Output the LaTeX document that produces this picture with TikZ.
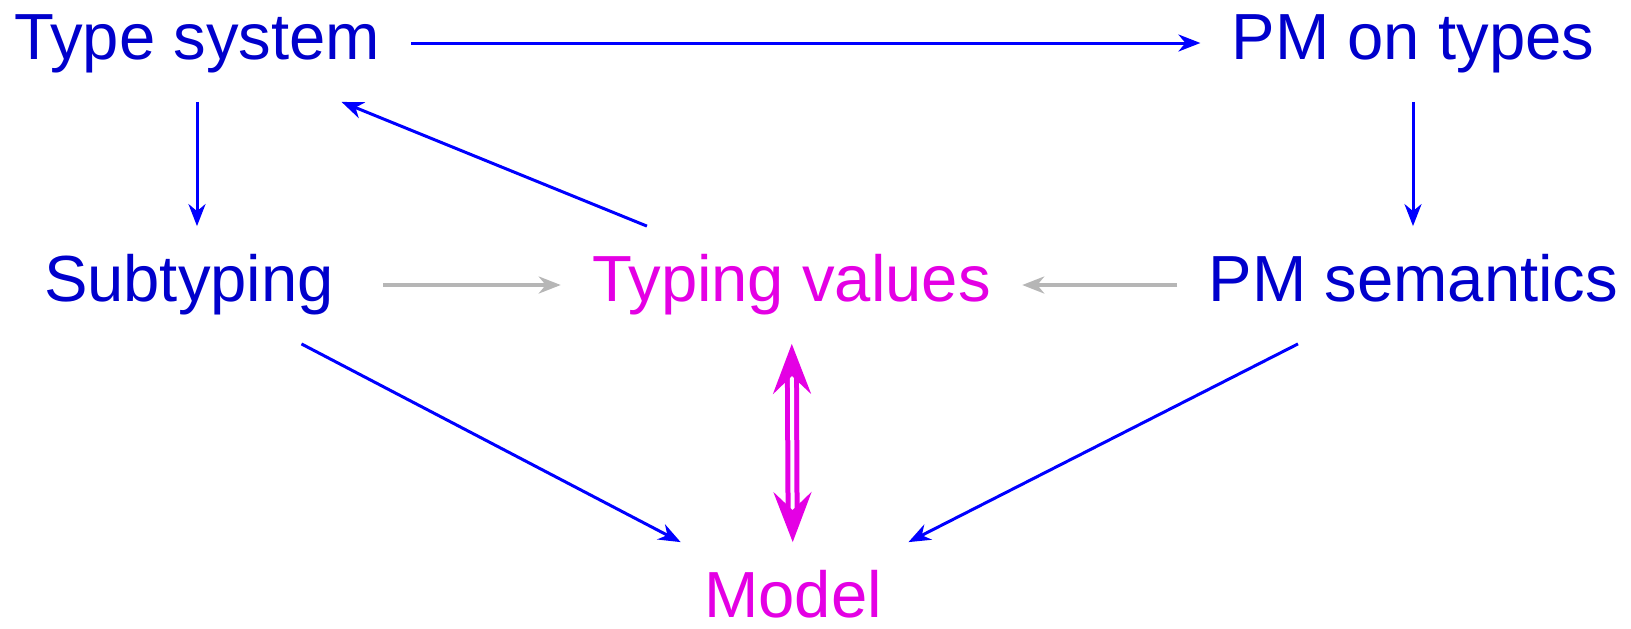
\documentclass[tikz,border=0pt]{standalone}
\usepackage{fontspec}
\setmainfont{Liberation Sans}
\usepackage{xcolor}
\usetikzlibrary{arrows.meta}

\definecolor{tblue}{RGB}{0,0,204}
\definecolor{lblue}{RGB}{0,0,255}
\definecolor{tmag}{RGB}{228,0,228}
\definecolor{lgray}{RGB}{182,182,182}

\begin{document}
\begin{tikzpicture}[
    x=0.5pt, y=-0.5pt,
    lbl/.style={inner xsep=15.5pt, inner ysep=14pt, text height=23.5pt, text depth=7pt, font=\fontsize{32.6}{38}\selectfont, text=tblue},
    hot/.style={lbl, text=tmag},
    arrow/.style={-{Stealth[length=11pt, width=8.5pt, inset=3.5pt]}, lblue, line width=1.5pt},
    greyarrow/.style={arrow, lgray, line width=1.8pt},
    dblarrow/.style={{Stealth[length=25pt, width=19pt, inset=9pt]}-{Stealth[length=25pt, width=19pt, inset=9pt]}, tmag, line width=2.5pt, double=white, double distance=2pt},
  ]
    \useasboundingbox (0,0) rectangle (1631,628);

    % Nodes
    \node[lbl] (types) at (197,43) {Type system};
    \node[lbl] (pmtypes) at (1413,43) {PM on types};
    \node[lbl] (subtyping) at (189,285) {Subtyping};
    \node[hot] (values) at (791.5,285) {Typing values};
    \node[lbl] (pmsem) at (1413.5,285) {PM semantics};
    \node[hot] (model) at (793,601) {Model};

    % Arrows
    \draw[arrow] (types) -- (pmtypes);
    \draw[arrow] (types) -- (types |- subtyping.north);
    \draw[arrow] (pmtypes) -- (pmtypes |- pmsem.north);
    \draw[arrow] (values) -- (types);
    \draw[greyarrow, shorten <=9pt] (subtyping) -- (values);
    \draw[greyarrow] (pmsem) -- (values);
    \draw[arrow] (subtyping) -- (model);
    \draw[arrow] (pmsem) -- (model);
    \draw[dblarrow] (values) -- (model);

\end{tikzpicture}
\end{document}
